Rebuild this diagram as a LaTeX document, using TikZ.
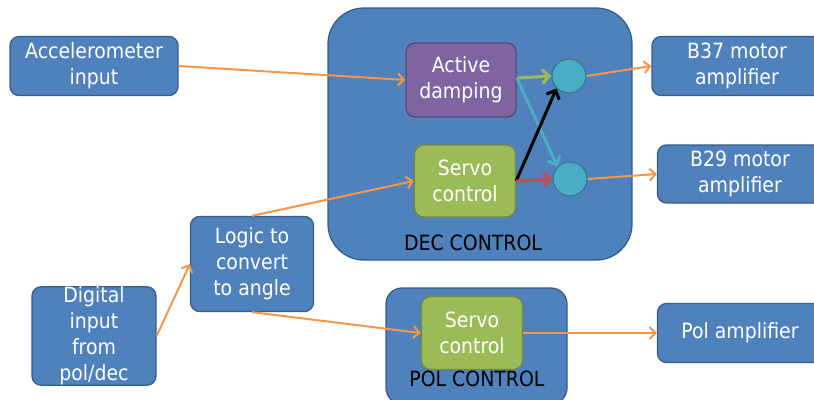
\documentclass[tikz,border=0pt]{standalone}
\usepackage{fontspec}
\setmainfont{DejaVu Sans Condensed}
\usetikzlibrary{arrows.meta}
\definecolor{boxblue}{HTML}{4F81BD}
\definecolor{boxedge}{HTML}{385D8A}
\definecolor{purp}{HTML}{8064A2}
\definecolor{purpedge}{HTML}{5C4776}
\definecolor{lgreen}{HTML}{9BBB59}
\definecolor{lgreenedge}{HTML}{71893F}
\definecolor{teal}{HTML}{4BACC6}
\definecolor{tealedge}{HTML}{357D91}
\definecolor{orng}{HTML}{F79646}
\definecolor{redd}{HTML}{C0504D}
\tikzset{
  base/.style={rounded corners=9pt, line width=1.3pt, align=center, text=white,
    font=\fontsize{21}{26}\selectfont, inner sep=0pt},
  bluebox/.style={base, fill=boxblue, draw=boxedge},
  purpbox/.style={base, fill=purp, draw=purpedge},
  greenbox/.style={base, fill=lgreen, draw=lgreenedge},
  panel/.style={fill=boxblue, draw=boxedge, line width=1.3pt},
  sumnode/.style={circle, fill=teal, draw=tealedge, line width=1.3pt, minimum size=34pt, inner sep=0pt},
  arr/.style={draw=orng, line width=2pt, -{Straight Barb[length=6pt,width=12pt,line width=2pt]}},
  inarr/.style={draw=#1, line width=3pt, -{Straight Barb[length=7pt,width=14pt,line width=3pt]}},
  caption/.style={font=\fontsize{21}{26}\selectfont, text=black}
}
\begin{document}
\begin{tikzpicture}[x=1pt,y=-1pt]
\useasboundingbox (0,0) rectangle (814,399);
% control panels
\draw[panel, rounded corners=36pt] (328,8) rectangle (632,260);
\node[caption] (deccap) at (473,243) {DEC CONTROL};
\draw[panel, rounded corners=16pt] (386,288) rectangle (567,404);
\node[caption] (polcap) at (477,379) {POL CONTROL};
% outer boxes
\node[bluebox, minimum width=168pt, minimum height=59pt] (acc) at (94,66) {Accelerometer\\input};
\node[bluebox, minimum width=124pt, minimum height=95pt] (dig) at (94,336) {Digital\\input\\from\\pol/dec};
\node[bluebox, minimum width=123pt, minimum height=95pt] (logic) at (252,264) {Logic to\\convert\\to angle};
\node[bluebox, minimum width=170pt, minimum height=59pt] (b37) at (737,66) {B37 motor\\amplifier};
\node[bluebox, minimum width=165pt, minimum height=58pt] (b29) at (740,174) {B29 motor\\amplifier};
\node[bluebox, minimum width=165pt, minimum height=59pt] (pamp) at (740,333) {Pol amplifier};
% blocks inside the panels
\node[purpbox, minimum width=110pt, minimum height=74pt] (ad) at (461,80) {Active\\damping};
\node[greenbox, minimum width=101pt, minimum height=72pt] (dsv) at (465,181) {Servo\\control};
\node[greenbox, minimum width=101pt, minimum height=73pt] (psv) at (472,333) {Servo\\control};
\node[sumnode] (c1) at (569,76) {};
\node[sumnode] (c2) at (570,179) {};
% signal paths
\draw[arr] (acc.east) -- (ad.west);
\draw[arr] (dig.east) -- (logic.west);
\draw[arr] (logic.north) -- (dsv.west);
\draw[arr] (logic.south) -- (psv.west);
\draw[arr] (psv.east) -- (pamp.west);
\draw[arr] (c1.east) -- (b37.west);
\draw[arr] (c2.east) -- (b29.west);
\draw[inarr=lgreen] ([yshift=2pt]ad.east) -- (c1.west);
\draw[inarr=teal] ([yshift=2pt]ad.east) -- (c2.north west);
\draw[inarr=black] (dsv.east) -- (c1.south west);
\draw[inarr=redd] (dsv.east) -- (c2.west);
\end{tikzpicture}
\end{document}
